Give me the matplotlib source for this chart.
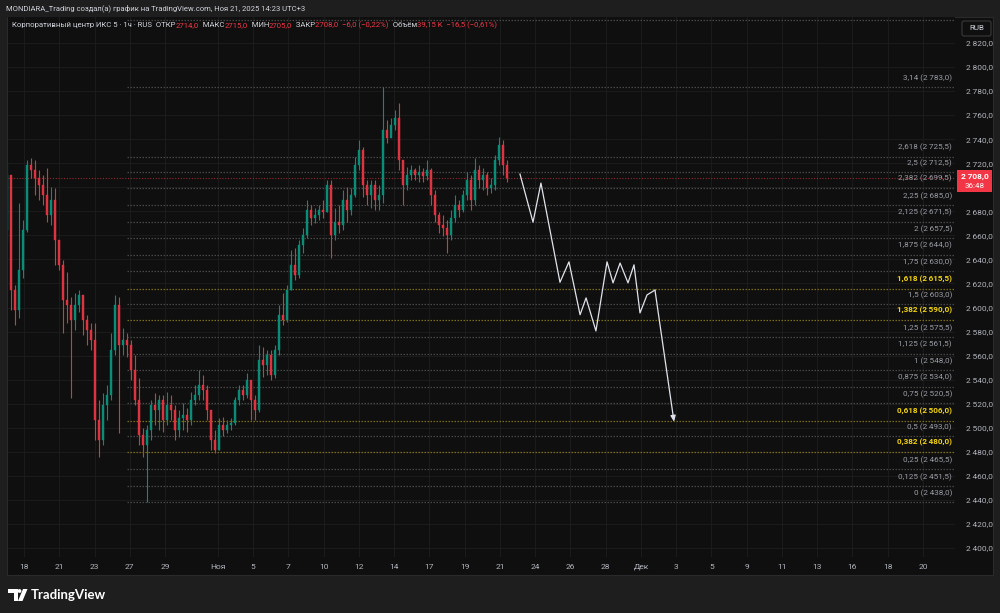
import matplotlib
matplotlib.use("Agg")
import matplotlib.pyplot as plt
from matplotlib.patches import Rectangle, Polygon, Circle, FancyBboxPatch
from matplotlib.transforms import blended_transform_factory
import numpy as np

plt.rcParams['font.family'] = ['Roboto', 'DejaVu Sans']

# ---------------- data ----------------
first_open = 2664.5
closes = [2710, 2614.5, 2598, 2631, 2664.5, 2718.5, 2714.5, 2707.5, 2702, 2693.5,
          2677, 2689.5, 2656, 2635.5, 2606, 2602, 2589.5, 2602, 2610.5, 2589.5,
          2581.5, 2573, 2506.5, 2490, 2519, 2527, 2564.5, 2602, 2569, 2573,
          2569, 2548, 2523, 2494, 2485.5, 2498, 2519, 2515, 2523, 2506.5,
          2519, 2515, 2498, 2508, 2510.5, 2506.5, 2523, 2527, 2535.5, 2531.5,
          2515, 2490, 2481.5, 2502.5, 2498, 2502.5, 2504, 2523, 2531.5, 2527,
          2539.5, 2523, 2515, 2556.5, 2552, 2560.5, 2544, 2564.5, 2594, 2589.5,
          2614.5, 2635.5, 2627, 2652, 2660.5, 2681, 2674.5, 2677, 2681, 2679.5,
          2702, 2660.5, 2671, 2668.5, 2689.5, 2681, 2693.5, 2718.5, 2731, 2702,
          2693.5, 2702, 2689.5, 2693.5, 2747.5, 2741, 2752, 2757.5, 2722.5, 2702,
          2710, 2714.5, 2710, 2712.5, 2709.5, 2714.5, 2693.5, 2677, 2668.5, 2666,
          2660.5, 2674.5, 2685, 2681, 2693.5, 2706, 2689.5, 2714.5, 2706, 2710,
          2699.5, 2702, 2722.5, 2735, 2718.5, 2708]
highs = [2720, 2685, 2618.5, 2687, 2673, 2722.5, 2724.5, 2722.5, 2714.5, 2710,
         2716, 2700, 2699.5, 2656, 2639.5, 2629.5, 2608.5, 2612, 2614.5, 2608.5,
         2594, 2587, 2587, 2523, 2529, 2535.5, 2579, 2610.5, 2608.5, 2583,
         2579, 2573, 2560.5, 2541.5, 2500, 2502.5, 2523, 2529, 2527, 2527,
         2529.5, 2527, 2519, 2515, 2520.5, 2516.5, 2529.5, 2535.5, 2548, 2544,
         2535.5, 2515, 2498, 2508, 2509, 2506.5, 2508, 2525.5, 2535.5, 2535.5,
         2545.5, 2539.5, 2527, 2569, 2567, 2564.5, 2564.5, 2569, 2602, 2612,
         2618.5, 2648, 2649.5, 2656, 2666, 2689.5, 2685, 2683, 2685, 2689.5,
         2706, 2706, 2683, 2685, 2697.5, 2700, 2699.5, 2725, 2739.5, 2733.5,
         2706, 2706, 2706, 2702, 2783, 2756, 2757.5, 2764.5, 2770, 2722.5,
         2717, 2718.5, 2716, 2718.5, 2716, 2722.5, 2716, 2697.5, 2679.5, 2677,
         2673, 2681, 2693.5, 2689.5, 2697.5, 2712.5, 2710, 2724.5, 2718.5, 2716,
         2712.5, 2708, 2727, 2742, 2739.5, 2722.5]
lows = [2654.5, 2598, 2585.5, 2591.5, 2624.5, 2663, 2707.5, 2693.5, 2689.5, 2685,
        2671, 2668.5, 2635.5, 2631, 2579, 2587, 2524.5, 2581.5, 2596.5, 2577,
        2569, 2564.5, 2490, 2475.5, 2485.5, 2506.5, 2523, 2560.5, 2495.5, 2560.5,
        2559, 2539.5, 2519, 2485.5, 2475.5, 2438, 2490, 2502.5, 2498, 2496.5,
        2502.5, 2506.5, 2490, 2492.5, 2498, 2496.5, 2502.5, 2519, 2523, 2523,
        2506.5, 2481.5, 2479, 2481.5, 2493, 2495.5, 2498, 2502.5, 2519, 2523,
        2524.5, 2506.5, 2506.5, 2513, 2542, 2544, 2539.5, 2541.5, 2560.5, 2585.5,
        2588, 2614.5, 2623, 2624.5, 2645.5, 2658, 2668.5, 2670.5, 2673, 2674.5,
        2679.5, 2641, 2656, 2662, 2664.5, 2671, 2677, 2692, 2714.5, 2692,
        2685, 2683, 2681, 2681, 2687, 2737, 2743.5, 2747.5, 2714.5, 2685,
        2698, 2706, 2706, 2704.5, 2704.5, 2706, 2685, 2671, 2662, 2659.5,
        2645.5, 2656, 2671, 2675.5, 2679.5, 2689.5, 2681, 2685, 2699.5, 2698,
        2693.5, 2695, 2698, 2718.5, 2710, 2704.5]

date_labels = ["18", "21", "23", "27", "29", "Ноя", "5", "7", "10", "12", "14", "17", "19",
               "21", "24", "26", "28", "Дек", "3", "5", "9", "11", "13", "16", "18", "20"]
date_pos = [0, 2, 4, 6, 8, 11, 13, 15, 17, 19, 21, 23, 25,
            27, 29, 31, 33, 35, 37, 39, 41, 43, 45, 47, 49, 51]

fib_ratios = [3.618, 3.14, 2.618, 2.5, 2.382, 2.25, 2.125, 2, 1.875, 1.75, 1.618, 1.5,
              1.382, 1.25, 1.125, 1, 0.875, 0.75, 0.618, 0.5, 0.382, 0.25, 0.125, 0]
fib_prices = [2839.5, 2783.0, 2725.5, 2712.5, 2699.5, 2685.0, 2671.5, 2657.5, 2644.0,
              2630.0, 2615.5, 2603.0, 2590.0, 2575.5, 2561.5, 2548.0, 2534.0, 2520.5,
              2506.0, 2493.0, 2480.0, 2465.5, 2451.5, 2438.0]
fib_golden = [0.382, 0.618, 1.382, 1.618]

proj_days = [28.14, 28.88, 29.33, 30.41, 30.92, 31.55, 31.89, 32.45, 33.08, 33.42,
             33.82, 34.27, 34.61, 34.95, 35.35, 35.80, 36.88]
proj_prices = [2711, 2671, 2703.5, 2621, 2638, 2594, 2608, 2580.5, 2638, 2620.5,
               2637, 2620.5, 2635.5, 2595.5, 2610.5, 2614.5, 2505]

last_price = 2708.0
countdown = "36:48"
price_ticks = list(range(2400, 2821, 20))

header_title = "MONDIARA_Trading создал(а) график на TradingView.com, Ноя 21, 2025 14:23 UTC+3"
legend_parts = [("Корпоративный центр ИКС 5 · 1ч · RUS  ОТКР", 'lbl'), ("2714,0", 'val'),
                ("  МАКС", 'lbl'), ("2715,0", 'val'), ("  МИН", 'lbl'), ("2705,0", 'val'),
                ("  ЗАКР", 'lbl'), ("2708,0  −6,0 (−0,22%)", 'val'), ("  Объём", 'lbl'),
                ("39,15 K  −16,5 (−0,61%)", 'val')]

# ---------------- layout ----------------
W, H = 1000, 613
BG_OUT = '#1e1e1e'
BG_IN = '#0f0f0f'
UP = '#0a8c77'
DN = '#dc3441'
LBL = '#f23645'
TXT = '#b2b5be'

fig = plt.figure(figsize=(W / 100, H / 100), dpi=100, facecolor=BG_OUT)

bg = fig.add_axes([0, 0, 1, 1], zorder=0)
bg.set_xlim(0, W)
bg.set_ylim(H, 0)
bg.axis('off')
bg.add_patch(Rectangle((7, 17), 986, 558, facecolor=BG_IN, edgecolor='#2a2a2a', lw=0.8))

def fx(px):
    return px / W

def fy(py):
    return 1 - py / H

ax = fig.add_axes([fx(8), fy(557), fx(955) - fx(8), fy(17) - fy(557)], zorder=2)
ax.set_facecolor(BG_IN)
for s in ax.spines.values():
    s.set_visible(False)

ppx = (548 - 43) / 420.0
ax.set_ylim(2820 - (557 - 43) / ppx, 2820 + (43 - 17) / ppx)
dpx = 35.25 / 2
ax.set_xlim((8 - 24) / dpx, (955 - 24) / dpx)

ax.set_xticks(date_pos)
ax.set_xticklabels(date_labels)
ax.set_yticks(price_ticks)
# the tick under the last-price badge is hidden by the badge
ax.set_yticklabels([("" if abs(v - last_price) < 12 else f"{v // 1000}\u2009{v % 1000:03d},0")
                    for v in price_ticks])
ax.yaxis.tick_right()
ax.tick_params(axis='both', length=0, colors=TXT, labelsize=6.0)
ax.tick_params(axis='x', pad=5)
ax.tick_params(axis='y', pad=8)
ax.grid(True, color='#1b1b1b', lw=0.8)
ax.set_axisbelow(True)

# candles
n = len(closes)
opens = [first_open] + closes[:-1]
bar_step = 4 / dpx
x0 = (7 - 24) / dpx
xs = x0 + np.arange(n) * bar_step
for x, o, h, l, c in zip(xs, opens, highs, lows, closes):
    col = UP if c >= o else DN
    ax.vlines(x, l, h, color=col, lw=0.8, zorder=3)
    ax.add_patch(Rectangle((x - bar_step * 0.3, min(o, c)), bar_step * 0.6,
                           max(abs(c - o), 0.6), facecolor=col, edgecolor=col, lw=0.3, zorder=3))

# fib levels
fib_x0 = (127 - 24) / dpx
xr = ax.get_xlim()[1]
for r, p in zip(fib_ratios, fib_prices):
    gold = r in fib_golden
    lc = '#7d6d12' if gold else '#474747'
    tc = '#f2d410' if gold else '#9a9da6'
    ax.plot([fib_x0, xr], [p, p], color=lc, lw=0.9, ls=(0, (1.2, 1.2)), zorder=2)
    lab = f"{r:g}".replace('.', ',')
    ptxt = f"{int(p) // 1000}\u2009{int(p) % 1000:03d},{int(round((p % 1) * 10))}"
    ax.text(xr - 3 / dpx, p + 4.5, f"{lab} ({ptxt})", color=tc, fontsize=5.9,
            ha='right', va='bottom', zorder=4,
            fontweight='bold' if gold else 'normal', clip_on=True)

# last price line
ax.axhline(last_price, color=LBL, lw=0.8, ls=(0, (1, 1.5)), alpha=0.6, zorder=2)

# projection
ax.plot(proj_days[:-1], proj_prices[:-1], color='#e0e3eb', lw=0.9, zorder=5)
ax.annotate('', xy=(proj_days[-1], proj_prices[-1]), xytext=(proj_days[-2], proj_prices[-2]),
            arrowprops=dict(arrowstyle='-|>,head_length=0.35,head_width=0.15',
                            color='#e0e3eb', lw=0.9, shrinkA=0, shrinkB=0), zorder=5)

# price label on axis (box px 170..192 around the 2708 line at px 178)
tr = blended_transform_factory(fig.transFigure, ax.transData)
ax.add_patch(Rectangle((fx(957), last_price - 14 / ppx), fx(992) - fx(957), 22 / ppx,
                       transform=tr, facecolor=LBL, edgecolor='none', clip_on=False, zorder=20))
ax.text(fx(974.5), last_price + 1.5 / ppx, f"{int(last_price) // 1000}\u2009{int(last_price) % 1000:03d},0",
        transform=tr, color='white', fontsize=6.0, fontweight='bold', ha='center',
        va='center', clip_on=False, zorder=21)
ax.text(fx(974.5), last_price - 8 / ppx, countdown, transform=tr, color='white',
        fontsize=5.8, ha='center', va='center', clip_on=False, zorder=21)

# RUB box
bg.add_patch(FancyBboxPatch((962, 21), 29, 15, boxstyle='round,pad=0,rounding_size=2',
                            facecolor=BG_IN, edgecolor='#3a3a3a', lw=0.8, zorder=5))
bg.text(976.5, 28.5, "RUB", color='#d1d4dc', fontsize=5.8, ha='center', va='center', zorder=6)

# header texts
fig.text(fx(6), fy(8), header_title, color='#d1d4dc', fontsize=5.5, va='center', ha='left')

fig.canvas.draw()
renderer = fig.canvas.get_renderer()
xcur = 12
for s, kind in legend_parts:
    c = '#d1d4dc' if kind == 'lbl' else LBL
    t = fig.text(fx(xcur), fy(25), s, color=c, fontsize=5.6, va='center', ha='left', zorder=10)
    bb = t.get_window_extent(renderer=renderer)
    xcur += bb.width

# footer logo
bg.add_patch(Polygon([[8, 589], [17.5, 589], [17.5, 601], [13.5, 601], [13.5, 593], [8, 593]],
                     closed=True, facecolor='white', edgecolor='none'))
bg.add_patch(Circle((19.5, 591), 1.9, facecolor='white', edgecolor='none'))
bg.add_patch(Polygon([[23, 589], [27.5, 589], [22.5, 601], [18, 601]],
                     closed=True, facecolor='white', edgecolor='none'))
bg.text(31, 595, "TradingView", color='white', fontsize=9.5, fontweight='bold',
        va='center', ha='left', family=['Lato', 'DejaVu Sans'])

fig.savefig("out.png", dpi=100, facecolor=BG_OUT)
